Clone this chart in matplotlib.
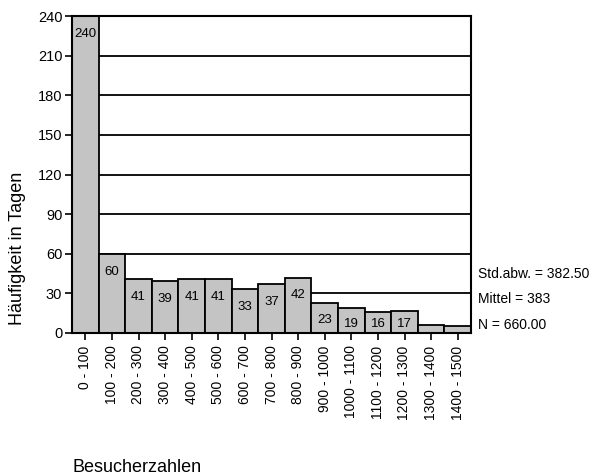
import matplotlib
matplotlib.use("Agg")
import matplotlib.pyplot as plt
import numpy as np

plt.rcParams['font.family'] = ['Liberation Sans', 'DejaVu Sans']

categories = ["0 - 100", "100 - 200", "200 - 300", "300 - 400", "400 - 500",
              "500 - 600", "600 - 700", "700 - 800", "800 - 900", "900 - 1000",
              "1000 - 1100", "1100 - 1200", "1200 - 1300", "1300 - 1400", "1400 - 1500"]
counts = [240, 60, 41, 39, 41, 41, 33, 37, 42, 23, 19, 16, 17, 6, 5]
yticks = [0, 30, 60, 90, 120, 150, 180, 210, 240]
stats_text = ["Std.abw. = 382.50", "Mittel = 383", "N = 660.00"]
stats_y = [44.5, 25.5, 6]

W, H = 599, 474
fig = plt.figure(figsize=(W / 100, H / 100), dpi=100)
ax = fig.add_axes([72 / W, (H - 333) / H, (471 - 72) / W, (333 - 16) / H])

x = np.arange(len(counts))
ax.bar(x, counts, width=1.0, color='#c4c4c4', edgecolor='black', linewidth=1.3, zorder=3)

ax.set_xlim(-0.5, len(counts) - 0.5)
ax.set_ylim(0, 240)
ax.set_yticks(yticks)
ax.set_yticklabels([str(t) for t in yticks], fontsize=10.5)
ax.set_xticks(x)
ax.set_xticklabels(categories, rotation=90, fontsize=10, va='top')
ax.tick_params(axis='both', direction='out', length=5, width=1.2, color='black')
ax.tick_params(axis='x', pad=4)
ax.tick_params(axis='y', pad=2)

ax.yaxis.grid(True, color='black', linewidth=1.3, zorder=0)
ax.set_axisbelow(True)
for s in ax.spines.values():
    s.set_linewidth(1.5)
    s.set_color('black')
    s.set_zorder(4)

# bar labels
for xi, v in zip(x, counts):
    if v >= 10:
        ly = max(v - 13.5, 6.5)
        ax.text(xi, ly, str(v), ha='center', va='center', fontsize=9.5, zorder=5)

# statistics text on the right
for t, yv in zip(stats_text, stats_y):
    ax.annotate(t, xy=(1.0, yv), xycoords=('axes fraction', 'data'),
                xytext=(5, 0), textcoords='offset points',
                ha='left', va='center', fontsize=10, annotation_clip=False)

fig.text(18 / W, 1 - 248.5 / H, "Häufigkeit in Tagen", rotation=90,
         ha='center', va='center', fontsize=13)
fig.text(73 / W, 1 - 467 / H, "Besucherzahlen", ha='left', va='center', fontsize=13)

fig.savefig("out.png", dpi=100)
